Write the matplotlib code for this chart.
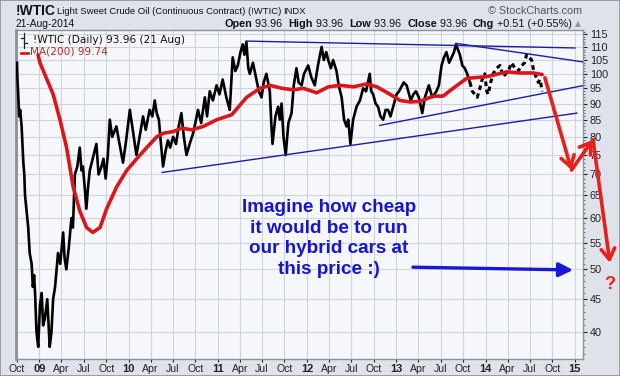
import matplotlib
matplotlib.use('Agg')
import matplotlib.pyplot as plt
from matplotlib.patches import Rectangle
from matplotlib.ticker import FixedLocator, NullFormatter
import pandas as pd

# price path (front month crude, daily bars)
price_dates = ['2008-10-01', '2008-10-03', '2008-10-06', '2008-10-10', '2008-10-14', '2008-10-20',
               '2008-10-27', '2008-10-31', '2008-11-03', '2008-11-10', '2008-11-16', '2008-11-22',
               '2008-11-30', '2008-12-05', '2008-12-10', '2008-12-14', '2008-12-20', '2008-12-27',
               '2009-01-03', '2009-01-10', '2009-01-16', '2009-01-23', '2009-02-02', '2009-02-12',
               '2009-02-19', '2009-02-26', '2009-03-06', '2009-03-18', '2009-03-27', '2009-04-08',
               '2009-04-14', '2009-04-21', '2009-05-01', '2009-05-12', '2009-05-18', '2009-05-26',
               '2009-06-05', '2009-06-15', '2009-06-22', '2009-06-28', '2009-07-05', '2009-07-12',
               '2009-07-19', '2009-07-26', '2009-08-07', '2009-08-22', '2009-08-31', '2009-09-12',
               '2009-09-20', '2009-09-29', '2009-10-08', '2009-10-16', '2009-10-26', '2009-11-12',
               '2009-11-22', '2009-12-09', '2009-12-20', '2010-01-06', '2010-01-18', '2010-02-02',
               '2010-02-15', '2010-03-01', '2010-03-12', '2010-03-28', '2010-04-08', '2010-04-18',
               '2010-04-26', '2010-05-05', '2010-05-12', '2010-05-22', '2010-06-01', '2010-06-11',
               '2010-06-20', '2010-07-02', '2010-07-14', '2010-07-25', '2010-08-05', '2010-08-15',
               '2010-08-26', '2010-09-08', '2010-09-22', '2010-10-01', '2010-10-12', '2010-10-25',
               '2010-11-09', '2010-11-18', '2010-11-29', '2010-12-12', '2010-12-27', '2011-01-08',
               '2011-01-21', '2011-02-05', '2011-02-19', '2011-03-03', '2011-03-14', '2011-03-24',
               '2011-04-04', '2011-04-13', '2011-04-20', '2011-04-28', '2011-05-06', '2011-05-12',
               '2011-05-25', '2011-06-08', '2011-06-18', '2011-06-29', '2011-07-08', '2011-07-19',
               '2011-07-26', '2011-08-02', '2011-08-08', '2011-08-13', '2011-08-25', '2011-09-05',
               '2011-09-12', '2011-09-19', '2011-09-27', '2011-10-06', '2011-10-17', '2011-10-30',
               '2011-11-08', '2011-11-19', '2011-11-28', '2011-12-10', '2011-12-20', '2012-01-06',
               '2012-01-18', '2012-02-02', '2012-02-15', '2012-03-01', '2012-03-10', '2012-03-20',
               '2012-03-28', '2012-04-08', '2012-04-17', '2012-05-01', '2012-05-10', '2012-05-22',
               '2012-06-01', '2012-06-11', '2012-06-18', '2012-06-27', '2012-07-08', '2012-07-22',
               '2012-08-05', '2012-08-18', '2012-08-30', '2012-09-14', '2012-09-20', '2012-09-28',
               '2012-10-08', '2012-10-18', '2012-10-28', '2012-11-08', '2012-11-18', '2012-11-28',
               '2012-12-08', '2012-12-19', '2013-01-02', '2013-01-12', '2013-01-31', '2013-02-12',
               '2013-03-01', '2013-03-12', '2013-03-22', '2013-04-03', '2013-04-17', '2013-04-28',
               '2013-05-14', '2013-05-28', '2013-06-14', '2013-06-24', '2013-07-05', '2013-07-15',
               '2013-07-25', '2013-08-05', '2013-08-15', '2013-08-25', '2013-09-02', '2013-09-10',
               '2013-09-18', '2013-09-28', '2013-10-08', '2013-10-18', '2013-10-29', '2013-11-08',
               '2013-11-18', '2013-11-28', '2013-12-09', '2013-12-18', '2013-12-29', '2014-01-06',
               '2014-01-12', '2014-01-22', '2014-02-01', '2014-02-15', '2014-03-01', '2014-03-15',
               '2014-04-04', '2014-04-18', '2014-05-01', '2014-05-15', '2014-05-29', '2014-06-10',
               '2014-06-18', '2014-06-28', '2014-07-09', '2014-07-15', '2014-07-22', '2014-08-05',
               '2014-08-12', '2014-08-21']
price_values = [104, 98, 93, 86, 88, 83,
                73, 70, 65, 61, 58, 53,
                51, 47, 49, 46, 40, 38,
                44, 46, 41, 42, 45, 38,
                40, 45, 47, 53, 51, 57,
                52, 50, 54, 60, 58, 70,
                72, 77, 71, 72, 67, 62,
                67, 71, 74, 78, 70, 72,
                74, 69, 75, 85, 80, 83,
                79, 73, 78, 88, 82, 75,
                80, 86, 82, 88, 86, 91,
                87, 85, 79, 72, 76, 79,
                77, 80, 78, 83, 87, 80,
                75, 78, 81, 84, 88, 84,
                92, 86, 94, 91, 96, 93,
                98, 92, 88, 106, 101, 103,
                108, 111, 107, 112, 102, 100,
                104, 98, 94, 92, 97, 100,
                97, 94, 84, 78, 86, 89,
                85, 90, 80, 75, 84, 87,
                96, 102, 97, 96, 100, 103,
                99, 96, 103, 110, 105, 108,
                105, 102, 105, 101, 96, 92,
                85, 83, 85, 78, 85, 89,
                91, 95, 94, 100, 94, 93,
                90, 89, 86, 85, 88, 88,
                86, 89, 93, 94, 97, 96,
                91, 93, 94, 92, 87, 92,
                96, 92, 94, 96, 103, 106,
                108, 104, 106, 108, 111, 109,
                107, 103, 102, 100, 97, 94,
                93, 92, 95, 98, 100, 94,
                93, 97, 100, 102, 103, 99,
                101, 104, 102, 101, 103, 104,
                107, 106, 105, 102, 100, 97,
                98, 93.96]

ma_dates = ['2008-12-26', '2009-01-03', '2009-02-26', '2009-03-26', '2009-04-22', '2009-05-19',
            '2009-06-15', '2009-07-13', '2009-08-07', '2009-09-06', '2009-10-03', '2009-11-13',
            '2009-12-24', '2010-02-03', '2010-03-16', '2010-04-26', '2010-05-23', '2010-07-03',
            '2010-08-06', '2010-09-16', '2010-11-03', '2010-12-28', '2011-02-27', '2011-04-29',
            '2011-06-23', '2011-08-03', '2011-09-20', '2011-11-06', '2011-12-17', '2012-02-10',
            '2012-03-29', '2012-05-16', '2012-07-09', '2012-09-02', '2012-10-13', '2012-12-06',
            '2013-01-16', '2013-02-26', '2013-04-08', '2013-05-31', '2013-07-11', '2013-08-21',
            '2013-10-16', '2014-01-06', '2014-03-29', '2014-05-23', '2014-07-15', '2014-08-21']
ma_values = [107, 104, 93, 85, 77, 67,
             61.5, 58, 57, 58, 62, 67,
             71, 74, 77, 80, 81, 81.5,
             82.5, 82, 83, 85, 86.5, 92,
             95, 96, 95, 94.5, 95, 93.5,
             95.5, 96, 95.5, 96.5, 95.5, 93,
             91, 90.5, 90.7, 92.4, 92.4, 95,
             98.4, 99, 100.7, 100.3, 100.3, 99.74]

# hand drawn trend lines (start, end)
top_line_dates = ['2011-04-28', '2015-01-02']
top_line_values = [112.3, 109.6]
falling_line_dates = ['2013-09-02', '2015-02-04']
falling_line_values = [111.4, 104.3]
support_short_dates = ['2012-10-25', '2015-02-04']
support_short_values = [83.3, 95.9]
support_long_dates = ['2010-05-18', '2015-01-10']
support_long_values = [70.5, 87]

# red forecast path and blue "this price" arrow
forecast_dates = ['2014-09-01', '2014-12-19', '2015-03-17', '2015-05-25']
forecast_values = [98.6, 71.1, 79.2, 51.2]
question_date = '2015-05-25'
question_value = 47.4
target_dates = ['2013-03-10', '2014-12-25']
target_values = [50.4, 49.9]

y_ticks = [40, 45, 50, 55, 60, 65, 70, 75, 80, 85, 90, 95, 100, 105, 110, 115]
x_tick_dates = pd.date_range('2008-10-01', '2015-01-01', freq='QS')
x_tick_labels = ['Oct', '09', 'Apr', 'Jul', 'Oct', '10', 'Apr', 'Jul', 'Oct', '11', 'Apr', 'Jul',
                 'Oct', '12', 'Apr', 'Jul', 'Oct', '13', 'Apr', 'Jul', 'Oct', '14', 'Apr', 'Jul',
                 'Oct', '15']

plt.rcParams['font.family'] = ['Liberation Sans', 'DejaVu Sans']

fig = plt.figure(figsize=(6.2, 3.76), dpi=100, facecolor='#dfe2ea')
fig.patches.append(Rectangle((0, 0), 1, 1, transform=fig.transFigure, fill=False,
                             edgecolor='#8a909c', lw=1.2))
ax = fig.add_axes([16 / 620, 1 - 359 / 376, 567 / 620, 329 / 376])
ax.set_facecolor('#f6f7fb')

pd_price = pd.to_datetime(price_dates)
dashed = pd_price >= pd.Timestamp('2013-10-29')
first_dash = int(dashed.argmax())
# the picture renders the last months as broken dashes
ax.plot(pd_price[:first_dash + 1], price_values[:first_dash + 1], color='black', lw=1.9, zorder=3)
ax.plot(pd_price[first_dash:], price_values[first_dash:], color='black', lw=2.2,
        linestyle=(0, (1.5, 1.2)), zorder=3)
ax.plot(pd.to_datetime(ma_dates), ma_values, color='#d8161b', lw=2.6, zorder=4,
        solid_capstyle='round')

for d, v in [(top_line_dates, top_line_values), (falling_line_dates, falling_line_values),
             (support_short_dates, support_short_values), (support_long_dates, support_long_values)]:
    ax.plot(pd.to_datetime(d), v, color='#1c1ca8', lw=1.0, zorder=5)

fd = pd.to_datetime(forecast_dates)
for i in range(3):
    ax.annotate('', xy=(fd[i + 1], forecast_values[i + 1]), xytext=(fd[i], forecast_values[i]),
                annotation_clip=False, zorder=6,
                arrowprops=dict(arrowstyle='->,head_length=0.55,head_width=0.35', color='#e8201c',
                                lw=2.6, shrinkA=0, shrinkB=0, mutation_scale=14))
ax.text(pd.Timestamp(question_date), question_value, '?', color='#e8201c', fontsize=13,
        fontweight='bold', ha='center', va='center', clip_on=False)

td = pd.to_datetime(target_dates)
ax.annotate('', xy=(td[1], target_values[1]), xytext=(td[0], target_values[0]),
            annotation_clip=False, zorder=6,
            arrowprops=dict(arrowstyle='-|>,head_length=0.6,head_width=0.3', color='#1818d6',
                            lw=2.4, shrinkA=0, shrinkB=0, mutation_scale=14))

ax.text(0.552, 0.366, 'Imagine how cheap\nit would be to run\nour hybrid cars at\nthis price :)',
        transform=ax.transAxes, ha='center', va='center', color='#1616d2', fontsize=13.6,
        fontweight='bold', linespacing=1.27, zorder=7)

ax.set_yscale('log')
ax.set_ylim(36.4, 116.8)
ax.set_xlim(pd.Timestamp('2008-09-27'), pd.Timestamp('2015-02-04'))
ax.yaxis.tick_right()
ax.yaxis.set_major_locator(FixedLocator(y_ticks))
ax.yaxis.set_minor_locator(FixedLocator(range(37, 117)))
ax.yaxis.set_minor_formatter(NullFormatter())
ax.set_yticklabels([str(t) for t in y_ticks])
ax.tick_params(axis='y', which='major', length=3, pad=2, labelsize=7.8, colors='#222222')
ax.tick_params(axis='y', which='minor', length=1.5, colors='#555555')

ax.set_xticks(x_tick_dates)
ax.set_xticklabels(x_tick_labels)
ax.tick_params(axis='x', length=2.5, pad=1, labelsize=7.6, colors='#222222')
for lab in ax.get_xticklabels():
    if lab.get_text().isdigit():
        lab.set_fontweight('bold')
        lab.set_fontsize(8.0)

ax.grid(True, which='major', color='#cfd3dc', lw=0.8)
ax.set_axisbelow(True)
for s in ax.spines.values():
    s.set_color('#8c919c')
    s.set_linewidth(1.0)
ax.spines['left'].set_linewidth(2.0)

# legend box at the top left
ax.text(0.03, 0.985, '!WTIC (Daily) 93.96 (21 Aug)', transform=ax.transAxes, ha='left', va='top',
        fontsize=7.6, family='DejaVu Sans', color='#111111', zorder=8)
ax.text(0.025, 0.95, 'MA(200) 99.74', transform=ax.transAxes, ha='left', va='top',
        fontsize=7.6, family='DejaVu Sans', color='#c0282a', zorder=8)
ax.plot([0.008, 0.021], [0.93, 0.93], transform=ax.transAxes, color='#d8161b', lw=2, zorder=8)
ax.plot([0.014, 0.014], [0.945, 0.99], transform=ax.transAxes, color='#222222', lw=0.9, zorder=8)
ax.plot([0.008, 0.014], [0.975, 0.975], transform=ax.transAxes, color='#222222', lw=0.9, zorder=8)
ax.plot([0.014, 0.020], [0.96, 0.96], transform=ax.transAxes, color='#222222', lw=0.9, zorder=8)

# header
fig.text(16 / 620, 1 - 11 / 376, '!WTIC', fontsize=10, fontweight='bold', va='center',
         color='#111111')
fig.text(57 / 620, 1 - 11 / 376, 'Light Sweet Crude Oil (Continuous Contract) (!WTIC)',
         fontsize=6.8, va='center', color='#111111')
fig.text(283 / 620, 1 - 11 / 376, 'INDX', fontsize=6.8, va='center', color='#111111')
fig.text(582 / 620, 1 - 11 / 376, '\u00a9 StockCharts.com', fontsize=7.8, va='center',
         ha='right', color='#50555f')
fig.text(16 / 620, 1 - 24 / 376, '21-Aug-2014', fontsize=7.4, va='center', color='#111111')

fig.canvas.draw()
renderer = fig.canvas.get_renderer()
pieces = [('Open', 'bold'), (' 93.96  ', 'normal'), ('High', 'bold'), (' 93.96  ', 'normal'),
          ('Low', 'bold'), (' 93.96  ', 'normal'), ('Close', 'bold'), (' 93.96  ', 'normal'),
          ('Chg', 'bold'), (' +0.51 (+0.55%)', 'normal')]
xpos = 572
for txt, w in reversed(pieces):
    t = fig.text(xpos / 620, 1 - 24 / 376, txt, fontsize=7.8, fontweight=w, va='center',
                 ha='right', color='#111111')
    xpos -= t.get_window_extent(renderer).width
fig.text(578 / 620, 1 - 24 / 376, '\u25b2', fontsize=5.5, va='center', ha='center',
         color='#9097a3', family='DejaVu Sans')

fig.savefig('out.png', dpi=100, facecolor=fig.get_facecolor())
